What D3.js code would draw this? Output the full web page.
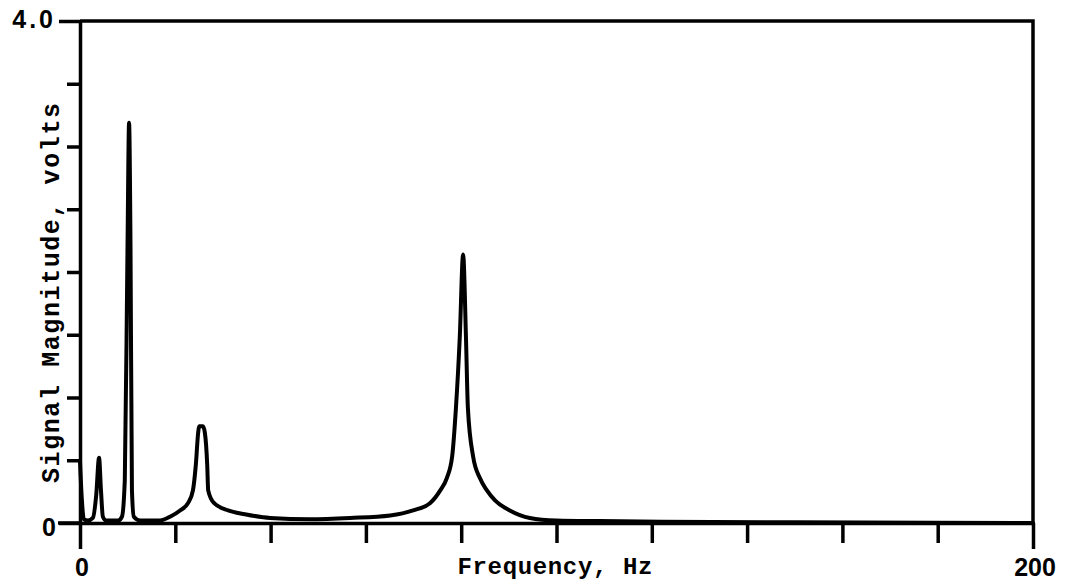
<!DOCTYPE html>
<html>
<head>
<meta charset="utf-8">
<script src="https://cdn.jsdelivr.net/npm/d3@7"></script>
<style>
  body { margin: 0; background: #fff; }
  svg { display: block; }
</style>
</head>
<body>
<div id="spectrum"></div>
<script>
// spectrum trace, frequency in Hz and magnitude in volts
const freq = [0, 0.4, 0.8, 1.7, 2.7, 3.4, 4.0, 4.4, 4.8, 5.5, 8.0, 8.8, 9.4, 9.97, 10.3, 10.6, 10.9, 11.3, 12.6,
  16.8, 18.9, 21.0, 22.7, 23.7, 24.3, 24.8, 25.0, 25.8, 26.2, 26.7, 26.9, 28.1, 31.1, 34.6, 39.9, 48.3, 56.7, 65.1,
  69.9, 73.5, 75.6, 77.0, 78.1, 78.9, 79.7, 80.4, 81.0, 81.4, 82.5, 83.9, 85.4, 87.1, 90.2, 94.4, 100, 109, 122, 150, 200];
const volts = [0.49, 0.18, 0.03, 0.02, 0.04, 0.22, 0.52, 0.26, 0.05, 0.02, 0.02, 0.05, 0.34, 2.2, 3.19, 2.2, 0.26, 0.05, 0.02,
  0.02, 0.05, 0.10, 0.16, 0.26, 0.46, 0.72, 0.77, 0.77, 0.72, 0.46, 0.26, 0.16, 0.10, 0.07, 0.04, 0.03, 0.04, 0.06,
  0.10, 0.16, 0.26, 0.36, 0.53, 0.92, 1.48, 2.14, 1.48, 0.92, 0.53, 0.36, 0.26, 0.18, 0.10, 0.04, 0.02, 0.015, 0.01, 0.005, 0];

const yTicks = [0, 0.5, 1, 1.5, 2, 2.5, 3, 3.5, 4];
const yTickLabels = { 0: "0", 4: "4.0" };
const xTicks = [0, 20, 40, 60, 80, 100, 120, 140, 160, 180, 200];
const xTickLabels = { 0: "0", 200: "200" };

const config = { width: 1065, height: 587, left: 80, right: 32, top: 21, bottom: 64 };

const svg = d3.select("#spectrum").append("svg")
  .attr("width", config.width)
  .attr("height", config.height);

svg.append("rect").attr("width", config.width).attr("height", config.height).attr("fill", "#fff");

const xScale = d3.scaleLinear().domain([0, 200]).range([config.left, config.width - config.right]);
const yScale = d3.scaleLinear().domain([0, 4]).range([config.height - config.bottom, config.top]);

const x0 = xScale(0), x1 = xScale(200), y0 = yScale(0), y1 = yScale(4);

// frame: top and right edges
svg.append("path")
  .attr("d", `M${x0},${y1}H${x1}V${y0}`)
  .attr("fill", "none")
  .attr("stroke", "#000")
  .attr("stroke-width", 3.5);

// left axis, long ticks where labelled
const yAxis = svg.append("g")
  .attr("transform", `translate(${x0},0)`)
  .call(d3.axisLeft(yScale).tickValues(yTicks).tickSize(13).tickSizeOuter(0).tickFormat(""));
yAxis.select(".domain").attr("stroke-width", 3.5);
yAxis.selectAll(".tick line")
  .attr("stroke-width", 3.5)
  .attr("x2", d => (d in yTickLabels) ? -21 : -13);

svg.append("g").selectAll("text")
  .data(yTicks.filter(d => d in yTickLabels))
  .join("text")
  .attr("x", 56)
  .attr("y", d => yScale(d) + (d === 0 ? 4 : -2))
  .attr("dy", "0.35em")
  .attr("text-anchor", "end")
  .attr("font-family", "Liberation Sans, Arial, sans-serif")
  .attr("font-weight", "bold")
  .attr("font-size", 25)
  .attr("letter-spacing", d => d === 4 ? 3 : 0)
  .text(d => yTickLabels[d]);

// bottom axis
const xAxis = svg.append("g")
  .attr("transform", `translate(0,${y0})`)
  .call(d3.axisBottom(xScale).tickValues(xTicks).tickSize(20).tickSizeOuter(0).tickFormat(""));
xAxis.select(".domain").attr("stroke-width", 3.5);
xAxis.selectAll(".tick line")
  .attr("stroke-width", 3.5)
  .attr("y2", d => (d in xTickLabels) ? 26 : 20);

svg.append("g").selectAll("text")
  .data(xTicks.filter(d => d in xTickLabels))
  .join("text")
  .attr("x", d => xScale(d) + 2)
  .attr("y", 567)
  .attr("dy", "0.35em")
  .attr("text-anchor", "middle")
  .attr("font-family", "Liberation Sans, Arial, sans-serif")
  .attr("font-weight", "bold")
  .attr("font-size", 25)
  .text(d => xTickLabels[d]);

// left edge extends past baseline a little
svg.append("line")
  .attr("x1", 58).attr("x2", x0)
  .attr("y1", y0).attr("y2", y0)
  .attr("stroke", "#000").attr("stroke-width", 3.5);

// axis titles
svg.append("text")
  .attr("x", 555)
  .attr("y", 566)
  .attr("dy", "0.35em")
  .attr("text-anchor", "middle")
  .attr("font-family", "Liberation Mono, DejaVu Sans Mono, monospace")
  .attr("font-weight", "bold")
  .attr("font-size", 24)
  .attr("textLength", 195)
  .attr("lengthAdjust", "spacing")
  .text("Frequency, Hz");

svg.append("text")
  .attr("transform", "translate(50,293) rotate(-90)")
  .attr("dy", "0.35em")
  .attr("text-anchor", "middle")
  .attr("font-family", "Liberation Mono, DejaVu Sans Mono, monospace")
  .attr("font-weight", "bold")
  .attr("font-size", 25)
  .attr("textLength", 380)
  .attr("lengthAdjust", "spacing")
  .text("Signal Magnitude, volts");

// spectrum trace
const data = freq.map((f, i) => ({ f: f, v: volts[i] }));
const line = d3.line()
  .curve(d3.curveMonotoneX)
  .x(d => xScale(d.f))
  .y(d => yScale(d.v));

svg.append("path")
  .datum(data)
  .attr("d", line)
  .attr("fill", "none")
  .attr("stroke", "#000")
  .attr("stroke-width", 4)
  .attr("stroke-linejoin", "round")
  .attr("stroke-linecap", "round");
</script>
</body>
</html>
